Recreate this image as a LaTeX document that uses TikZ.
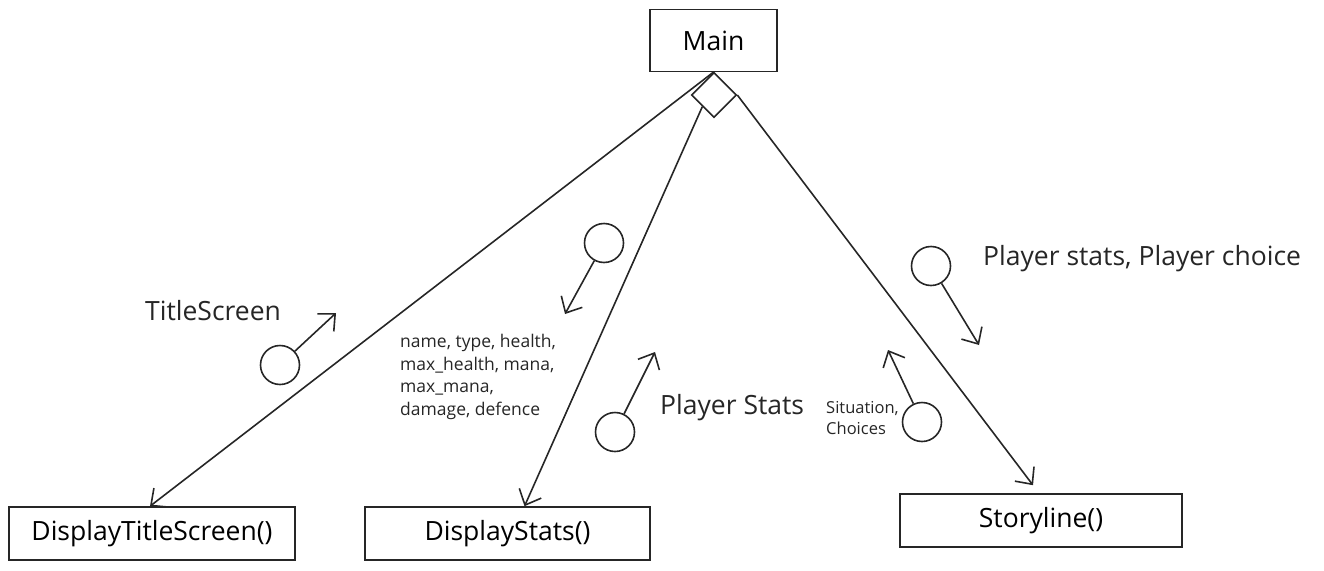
\documentclass[tikz,border=0pt]{standalone}
\usepackage{fontspec}
\setmainfont{Open Sans}
\usetikzlibrary{shapes.geometric,arrows.meta}
\begin{document}
\begin{tikzpicture}[x=1pt,y=-1pt,
  box/.style={draw=black!85,line width=1.6pt,inner sep=0pt,font=\fontsize{26.5}{32}\selectfont},
  flow/.style={line width=1.6pt,draw=black!85,-{Straight Barb[length=13pt,width=24pt,line width=1.6pt]}},
  ball/.style={draw=black!85,line width=1.6pt,circle,minimum size=39pt,inner sep=0pt},
  big/.style={font=\fontsize{26.5}{32}\selectfont,inner sep=0pt,anchor=west,text=black!85},
  small/.style={font=\fontsize{17.5}{22.5}\selectfont,inner sep=0pt,anchor=west,align=left,text=black!85}]
\useasboundingbox (0,0) rectangle (1324,570);
\node[box,minimum width=127pt,minimum height=62pt] (main) at (713.5,40.5) {Main};
\node[box,minimum width=286pt,minimum height=53pt] (dts) at (152,533.5) {DisplayTitleScreen()};
\node[box,minimum width=285pt,minimum height=53pt] (ds) at (507.5,533.5) {DisplayStats()};
\node[box,minimum width=282pt,minimum height=53pt] (st) at (1041,520.5) {Storyline()};
\node[draw=black!85,line width=1.6pt,diamond,minimum width=45pt,minimum height=45pt,inner sep=0pt,fill=white] (d) at (714,95) {};
\draw[flow] (d.north) -- ([xshift=-2pt]dts.north);
\draw[flow] (d.south west) -- ([xshift=17pt]ds.north);
\draw[flow] (d.east) -- ([xshift=-8pt,yshift=8pt]st.north);
% message circles
\node[ball] (c1) at (280,365) {};
\coordinate (t1) at (336,313);
\draw[flow] (c1) -- (t1);
\node[big] (l1) at (145,311) {TitleScreen};
\node[ball] (c2) at (604,243) {};
\coordinate (t2) at (565,314);
\draw[flow] (c2) -- (t2);
\node[small] (l2) at (400,377) {name, type, health,\\max\_health, mana,\\max\_mana,\\damage, defence};
\node[ball] (c3) at (615,432) {};
\coordinate (t3) at (655,352);
\draw[flow] (c3) -- (t3);
\node[big] (l3) at (660,408) {Player Stats};
\node[ball] (c4) at (922,422) {};
\coordinate (t4) at (888,350);
\draw[flow] (c4) -- (t4);
\node[small,font=\fontsize{16.5}{21}\selectfont] (l4) at (826,418) {Situation,\\Choices};
\node[ball] (c5) at (931,266) {};
\coordinate (t5) at (979,345);
\draw[flow] (c5) -- (t5);
\node[big] (l5) at (983,259) {Player stats, Player choice};
\end{tikzpicture}
\end{document}
